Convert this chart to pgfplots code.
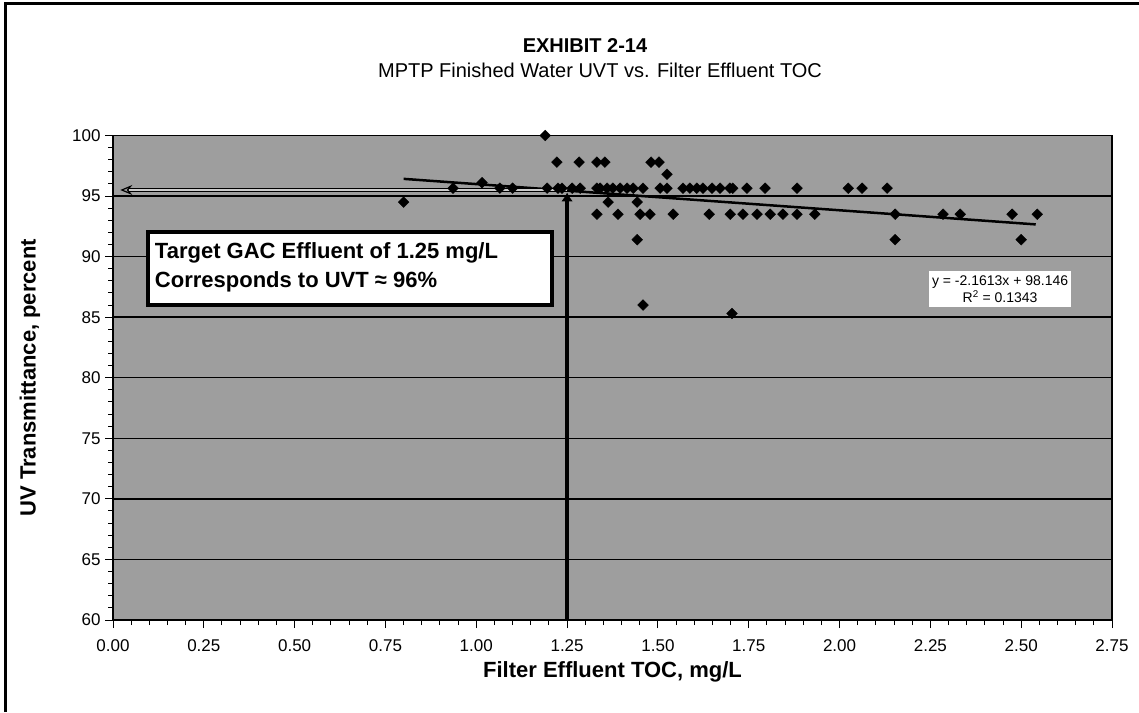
\documentclass[border=0pt]{standalone}
\usepackage{pgfplots}
\pgfplotsset{compat=1.18}
\usepackage{fontspec}
\setmainfont{Liberation Sans}
\usetikzlibrary{arrows.meta}

\pgfplotstableread{
x y
1.19 100
1.222 97.8
1.283 97.8
1.332 97.8
1.354 97.8
1.481 97.8
1.503 97.8
1.525 96.8
1.016 96.1
0.936 95.65
1.065 95.65
1.100 95.65
1.195 95.65
1.225 95.65
1.236 95.65
1.264 95.65
1.286 95.65
1.332 95.65
1.341 95.65
1.360 95.65
1.376 95.65
1.396 95.65
1.415 95.65
1.432 95.65
1.459 95.65
1.506 95.65
1.525 95.65
1.569 95.65
1.588 95.65
1.607 95.65
1.624 95.65
1.649 95.65
1.671 95.65
1.698 95.65
1.706 95.65
1.745 95.65
1.795 95.65
1.883 95.65
2.024 95.65
2.062 95.65
2.131 95.65
0.800 94.5
1.363 94.5
1.443 94.5
1.332 93.5
1.390 93.5
1.451 93.5
1.478 93.5
1.542 93.5
1.641 93.5
1.699 93.5
1.734 93.5
1.773 93.5
1.809 93.5
1.844 93.5
1.883 93.5
1.932 93.5
2.153 93.5
2.285 93.5
2.332 93.5
2.475 93.5
2.544 93.5
1.443 91.4
2.153 91.4
2.500 91.4
1.459 86.0
1.704 85.3
}\datatable

\begin{document}
\begin{tikzpicture}
\useasboundingbox (0pt,0pt) rectangle (1139pt,712pt);
\draw[line width=3pt] (5pt,0pt) -- (5pt,708pt) -- (1139pt,708pt);
\node[font=\fontsize{20}{24}\selectfont\bfseries] at (585pt,666pt) {EXHIBIT 2-14};
\node[font=\fontsize{20}{24}\selectfont] at (600pt,642pt) {MPTP Finished Water UVT vs. Filter Effluent TOC};
\begin{axis}[
  at={(113pt,92pt)}, anchor=south west,
  scale only axis, width=999pt, height=484.5pt,
  xmin=0, xmax=2.75, ymin=60, ymax=100,
  xtick={0,0.25,...,2.75}, ytick={60,65,...,100},
  minor x tick num=4, minor y tick num=4,
  tick pos=left, tick align=outside,
  major tick length=8pt, minor tick length=5pt,
  every tick/.style={black, line width=1pt},
  ymajorgrids,
  major grid style={black, line width=1.5pt},
  axis line style={black, line width=1.5pt},
  axis background/.style={fill=black!38},
  clip=false,
  tick label style={font=\fontsize{17}{20}\selectfont},
  /pgf/number format/assume math mode=true,
  xticklabel style={yshift=-8pt, /pgf/number format/.cd, fixed, fixed zerofill, precision=2},
  yticklabel style={xshift=-1pt, /pgf/number format/.cd, fixed, precision=0},
  xlabel={Filter Effluent TOC, mg/L},
  ylabel={UV Transmittance, percent},
  every axis x label/.style={at={(axis description cs:0.5,0)}, yshift=-52pt, anchor=center, font=\fontsize{22}{26}\selectfont\bfseries},
  every axis y label/.style={at={(axis description cs:0,0.5)}, xshift=-83pt, rotate=90, anchor=center, font=\fontsize{22}{26}\selectfont\bfseries},
]
\addplot[only marks, mark=square*, mark size=3.8pt, mark options={rotate=45, fill=black, draw=black}] table[x=x, y=y] {\datatable};
\addplot[black, line width=2.5pt] coordinates {(0.80,96.42) (2.54,92.66)};
\addplot[black, line width=1.2pt, double=black!20, double distance=1.2pt, -{Stealth[open, length=12pt, width=10pt]}] coordinates {(1.25,95.5) (0.02,95.5)};
\addplot[black, line width=4pt, -{Latex[length=9pt, width=12pt]}] coordinates {(1.25,60) (1.25,95.3)};
\draw[fill=white, line width=4pt] (axis cs:0.096,92.03) rectangle (axis cs:1.209,86.0);
\node[anchor=north west, align=left, inner sep=0pt, font=\fontsize{22}{29}\selectfont\bfseries] at (axis cs:0.115,91.2) {Target GAC Effluent of 1.25 mg/L\\Corresponds to UVT ≈ 96\%};
\node[fill=white, align=center, inner xsep=3pt, inner ysep=5pt, font=\fontsize{14}{17}\selectfont] at (axis cs:2.442,87.33) {y = -2.1613x + 98.146\\R\textsuperscript{2} = 0.1343};
\end{axis}
\end{tikzpicture}
\end{document}
